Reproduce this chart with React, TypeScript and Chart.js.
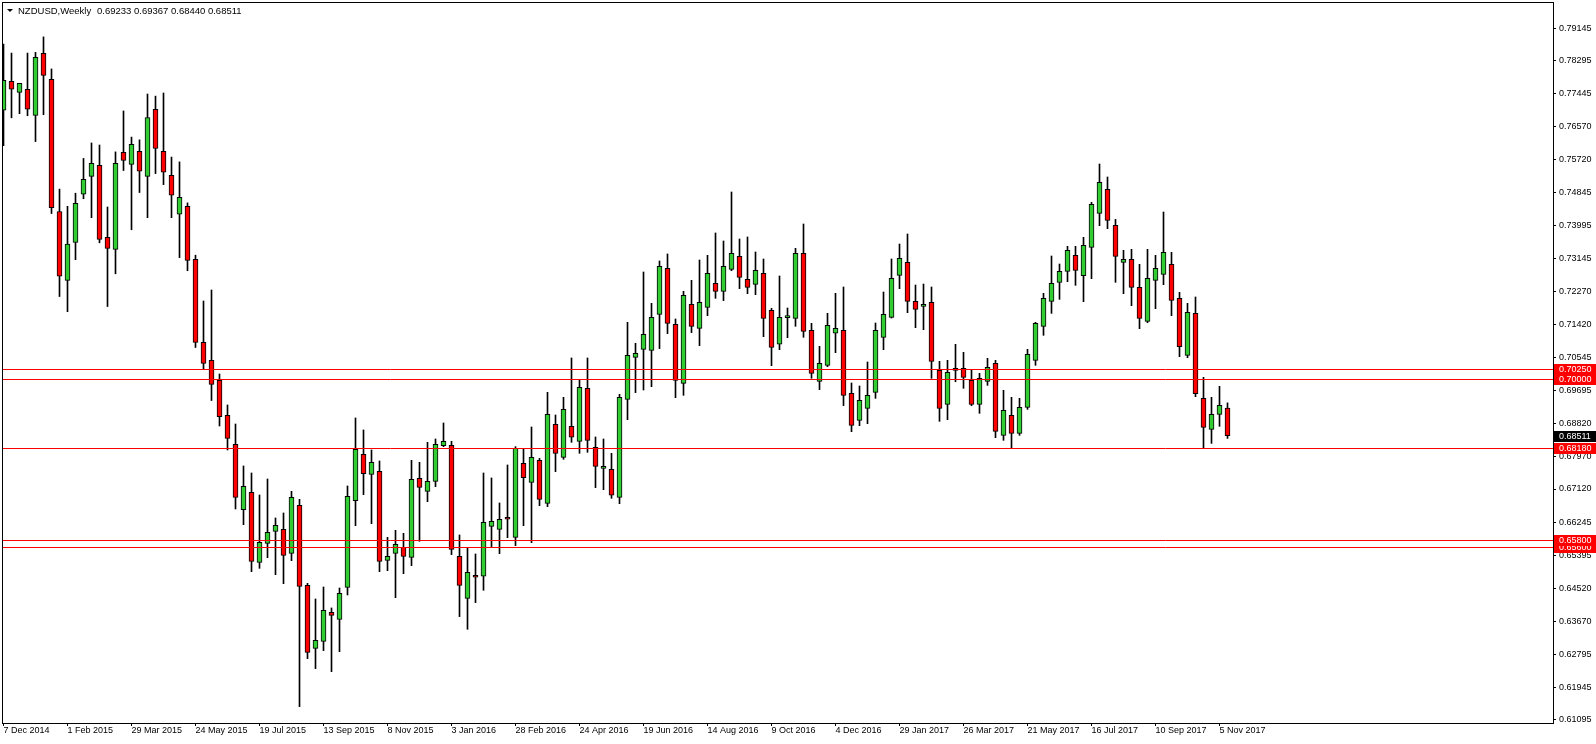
import { useEffect, useRef } from "react";
import { Chart, registerables } from "chart.js";

Chart.register(...registerables);

// ---- data (weekly NZDUSD, one bar per week starting 7 Dec 2014) ----
const OPEN = [
  0.77000, 0.77755, 0.77468, 0.77548, 0.76866, 0.78483, 0.77809, 0.74359, 0.72563, 0.73551,
  0.74809, 0.75276, 0.75563, 0.73686, 0.73371, 0.75905, 0.75590, 0.75931, 0.75276, 0.77027,
  0.75931, 0.75303, 0.74288, 0.74494, 0.73111, 0.70946, 0.70479, 0.69955, 0.69042, 0.68286,
  0.66582, 0.67034, 0.65208, 0.65703, 0.66016, 0.66069, 0.65442, 0.66695, 0.64608, 0.62964,
  0.63147, 0.63904, 0.63721, 0.64556, 0.66816, 0.68025, 0.67503, 0.67581, 0.65260, 0.65442,
  0.65599, 0.65338, 0.67399, 0.67060, 0.67321, 0.68251, 0.68260, 0.65364, 0.64269, 0.64869,
  0.64843, 0.66147, 0.66069, 0.66382, 0.65860, 0.67790, 0.67295, 0.67869, 0.66747, 0.68808,
  0.67947, 0.68755, 0.68364, 0.69747, 0.68208, 0.67660, 0.67634, 0.66903, 0.69460, 0.70555,
  0.70764, 0.70738, 0.71677, 0.72877, 0.71416, 0.69877, 0.71938, 0.71312, 0.71860, 0.72486,
  0.72277, 0.72851, 0.73190, 0.72590, 0.72460, 0.72747, 0.71781, 0.70895, 0.71590, 0.71573,
  0.73268, 0.71260, 0.69929, 0.70347, 0.71182, 0.71260, 0.69616, 0.68911, 0.69224, 0.69642,
  0.71076, 0.71598, 0.72694, 0.73033, 0.72015, 0.71885, 0.71989, 0.70216, 0.69329, 0.70216,
  0.70268, 0.69955, 0.69329, 0.69929, 0.70398, 0.68520, 0.69042, 0.68572, 0.69250, 0.70476,
  0.71363, 0.72015, 0.72511, 0.72798, 0.73215, 0.72685, 0.73424, 0.74311, 0.74937, 0.73998,
  0.73033, 0.73111, 0.72381, 0.71494, 0.72563, 0.72720, 0.72981, 0.72094, 0.70607, 0.71703,
  0.69485, 0.68677, 0.69068, 0.69233,
];
const HIGH = [
  0.78725, 0.78492, 0.77701, 0.78492, 0.78510, 0.78914, 0.78078, 0.74943, 0.74494, 0.74836,
  0.75743, 0.76147, 0.76093, 0.74476, 0.75914, 0.76982, 0.76300, 0.76228, 0.77423, 0.77369,
  0.77450, 0.75779, 0.75653, 0.74584, 0.73219, 0.72024, 0.72311, 0.70120, 0.69312, 0.68816,
  0.67721, 0.67538, 0.66964, 0.67381, 0.66364, 0.66495, 0.67060, 0.66851, 0.64660, 0.64251,
  0.64564, 0.64017, 0.64538, 0.67199, 0.68973, 0.68660, 0.68138, 0.67851, 0.65860, 0.66042,
  0.65964, 0.67868, 0.67816, 0.68338, 0.68425, 0.68842, 0.68364, 0.65921, 0.65591, 0.65425,
  0.67538, 0.67408, 0.66756, 0.67747, 0.68225, 0.68156, 0.68738, 0.67921, 0.69642, 0.69051,
  0.69512, 0.70538, 0.69981, 0.70538, 0.68477, 0.68425, 0.68051, 0.69590, 0.71468, 0.70921,
  0.72781, 0.71964, 0.73068, 0.73251, 0.71555, 0.72277, 0.72564, 0.73094, 0.73216, 0.73799,
  0.73590, 0.74868, 0.73642, 0.73694, 0.73303, 0.73120, 0.71834, 0.72677, 0.71842, 0.73399,
  0.74033, 0.71442, 0.70842, 0.71703, 0.72225, 0.72390, 0.69885, 0.69807, 0.70433, 0.71450,
  0.72259, 0.73120, 0.73511, 0.73772, 0.72441, 0.72467, 0.72389, 0.70450, 0.70476, 0.70894,
  0.70685, 0.70216, 0.70137, 0.70529, 0.70476, 0.69694, 0.69511, 0.69485, 0.70763, 0.71468,
  0.72224, 0.73198, 0.72989, 0.73450, 0.73450, 0.73685, 0.74598, 0.75598, 0.75259, 0.74154,
  0.73346, 0.73372, 0.72981, 0.73372, 0.73215, 0.74346, 0.73294, 0.72250, 0.71963, 0.72129,
  0.70033, 0.69511, 0.69798, 0.69367,
];
const LOW = [
  0.76075, 0.76803, 0.76911, 0.76857, 0.76183, 0.76884, 0.74306, 0.72141, 0.71745, 0.73102,
  0.74692, 0.74198, 0.73542, 0.71880, 0.72734, 0.75428, 0.73883, 0.74854, 0.74198, 0.75348,
  0.75060, 0.74198, 0.73156, 0.72814, 0.70811, 0.70245, 0.69428, 0.68764, 0.68138, 0.66599,
  0.66190, 0.64964, 0.65051, 0.65329, 0.64886, 0.64651, 0.65251, 0.61443, 0.62695, 0.62434,
  0.62904, 0.62356, 0.62877, 0.64356, 0.66164, 0.66973, 0.66216, 0.64964, 0.64990, 0.64286,
  0.64912, 0.65121, 0.65756, 0.66790, 0.67182, 0.68225, 0.65408, 0.63791, 0.63460, 0.64156,
  0.64478, 0.65617, 0.65434, 0.65851, 0.65643, 0.66164, 0.65721, 0.66686, 0.66660, 0.67573,
  0.67895, 0.68338, 0.68051, 0.68077, 0.67156, 0.67103, 0.66877, 0.66738, 0.68929, 0.69634,
  0.69703, 0.69790, 0.70782, 0.71173, 0.69503, 0.69564, 0.71199, 0.70860, 0.71642, 0.72094,
  0.72034, 0.72816, 0.72347, 0.72216, 0.72190, 0.71094, 0.70338, 0.70755, 0.71068, 0.71364,
  0.71077, 0.70008, 0.69712, 0.70312, 0.70677, 0.69295, 0.68616, 0.68772, 0.68824, 0.69485,
  0.70755, 0.71580, 0.72346, 0.71720, 0.71329, 0.71276, 0.70007, 0.68885, 0.68929, 0.69920,
  0.69746, 0.69294, 0.69094, 0.69824, 0.68459, 0.68390, 0.68181, 0.68520, 0.69198, 0.70346,
  0.71129, 0.71702, 0.72068, 0.72528, 0.72433, 0.72007, 0.72607, 0.73989, 0.73911, 0.72511,
  0.72215, 0.71902, 0.71302, 0.71460, 0.71824, 0.72450, 0.71642, 0.70572, 0.70546, 0.69529,
  0.68181, 0.68311, 0.68755, 0.68440,
];
const CLOSE = [
  0.77782, 0.77548, 0.77701, 0.77027, 0.78384, 0.77908, 0.74458, 0.72671, 0.73506, 0.74575,
  0.75195, 0.75617, 0.73632, 0.73398, 0.75617, 0.75689, 0.76111, 0.75410, 0.76812, 0.76003,
  0.75383, 0.74782, 0.74728, 0.73084, 0.70946, 0.70398, 0.69850, 0.69007, 0.68442, 0.66903,
  0.67190, 0.65234, 0.65729, 0.65990, 0.66173, 0.65390, 0.66903, 0.64582, 0.62860, 0.63173,
  0.63956, 0.63825, 0.64399, 0.66929, 0.68155, 0.67521, 0.67816, 0.65234, 0.65364, 0.65677,
  0.65364, 0.67373, 0.67164, 0.67321, 0.68286, 0.68364, 0.65547, 0.64608, 0.64947, 0.64817,
  0.66251, 0.66277, 0.66330, 0.66330, 0.68182, 0.67417, 0.67947, 0.66851, 0.69069, 0.68051,
  0.69199, 0.68469, 0.69773, 0.68390, 0.67712, 0.67660, 0.66956, 0.69512, 0.70608, 0.70660,
  0.71155, 0.71599, 0.72929, 0.71442, 0.69955, 0.72173, 0.71364, 0.71990, 0.72747, 0.72277,
  0.72929, 0.73268, 0.72642, 0.72381, 0.72825, 0.71573, 0.70816, 0.71599, 0.71590, 0.73268,
  0.71234, 0.70138, 0.70399, 0.71390, 0.71312, 0.69564, 0.68781, 0.69433, 0.69563, 0.71259,
  0.71676, 0.72615, 0.73137, 0.72015, 0.71807, 0.71937, 0.70450, 0.69224, 0.70163, 0.70268,
  0.70033, 0.69329, 0.70007, 0.70294, 0.68624, 0.69172, 0.68572, 0.69250, 0.70633, 0.71442,
  0.72094, 0.72485, 0.72798, 0.73346, 0.72824, 0.73476, 0.74546, 0.75120, 0.74128, 0.73189,
  0.73111, 0.72381, 0.71572, 0.72615, 0.72876, 0.73294, 0.72042, 0.70833, 0.71729, 0.69607,
  0.68729, 0.69068, 0.69303, 0.68511,
];

// x-axis labels, one every 8 weekly bars starting at bar 0
const DATE_LABELS = [
  "7 Dec 2014", "1 Feb 2015", "29 Mar 2015", "24 May 2015", "19 Jul 2015",
  "13 Sep 2015", "8 Nov 2015", "3 Jan 2016", "28 Feb 2016", "24 Apr 2016",
  "19 Jun 2016", "14 Aug 2016", "9 Oct 2016", "4 Dec 2016", "29 Jan 2017",
  "26 Mar 2017", "21 May 2017", "16 Jul 2017", "10 Sep 2017", "5 Nov 2017",
];
const DATE_STEP = 8;

const PRICE_TICKS = [
  0.79145, 0.78295, 0.77445, 0.76570, 0.75720, 0.74845, 0.73995, 0.73145, 0.72270, 0.71420,
  0.70545, 0.69695, 0.68820, 0.67970, 0.67120, 0.66245, 0.65395, 0.64520, 0.63670, 0.62795,
  0.61945, 0.61095,
];
const LEVELS = [0.656, 0.658, 0.6818, 0.70, 0.7025];
const LAST_PRICE = 0.68511;
const TITLE_SYMBOL = "NZDUSD,Weekly";
const TITLE_OHLC = "0.69233 0.69367 0.68440 0.68511";

const Y_MIN = 0.61016;
const Y_MAX = 0.79798;
const X_MIN = -0.0625;
const X_MAX = 193.6875;

const GREEN = "#32cd32";
const RED = "#ff0000";
const FAMILY = "'Liberation Sans', Arial, sans-serif";
const FONT_PX = 9;

const overlayPlugin = {
  id: "mtOverlay",
  afterDatasetsDraw(chart: any) {
    const { ctx, chartArea } = chart;
    const y = chart.scales.y;
    ctx.save();
    ctx.strokeStyle = RED;
    ctx.lineWidth = 1;
    for (const lv of LEVELS) {
      const py = Math.round(y.getPixelForValue(lv)) + 0.5;
      ctx.beginPath();
      ctx.moveTo(chartArea.left, py);
      ctx.lineTo(chartArea.right, py);
      ctx.stroke();
    }
    ctx.restore();
  },
  afterDraw(chart: any) {
    const { ctx, chartArea, width } = chart;
    const y = chart.scales.y;
    ctx.save();
    // frame
    ctx.strokeStyle = "#000";
    ctx.lineWidth = 1;
    ctx.strokeRect(chartArea.left - 0.5, chartArea.top - 0.5, chartArea.right - chartArea.left + 1, chartArea.bottom - chartArea.top + 1);
    // price boxes
    ctx.font = `${FONT_PX}px ${FAMILY}`;
    ctx.textBaseline = "middle";
    ctx.textAlign = "left";
    const box = (v: number, bg: string) => {
      const py = Math.round(y.getPixelForValue(v));
      ctx.fillStyle = bg;
      ctx.fillRect(chartArea.right + 1, py - 5, width - chartArea.right - 1, 11);
      ctx.fillStyle = "#fff";
      ctx.fillText(v.toFixed(5), chartArea.right + 6, py + 0.5);
    };
    for (const lv of LEVELS) box(lv, RED);
    box(LAST_PRICE, "#000");
    // title
    ctx.fillStyle = "#000";
    ctx.beginPath();
    ctx.moveTo(7, 9);
    ctx.lineTo(13, 9);
    ctx.lineTo(10, 12);
    ctx.closePath();
    ctx.fill();
    ctx.font = `9.5px ${FAMILY}`;
    ctx.fillText(TITLE_SYMBOL, 18, 11);
    ctx.fillText(TITLE_OHLC, 97, 11);
    ctx.restore();
  },
};

export default function App() {
  const ref = useRef<HTMLCanvasElement | null>(null);
  useEffect(() => {
    document.body.style.margin = "0";
    const canvas = ref.current;
    if (!canvas) return;
    const idx = OPEN.map((_, i) => i);
    const bodies = idx.map((i) => ({ x: i, y: [OPEN[i], CLOSE[i]] }));
    const wicks = idx.map((i) => ({ x: i, y: [LOW[i], HIGH[i]] }));
    const bodyColors = idx.map((i) => (CLOSE[i] >= OPEN[i] ? GREEN : RED));
    const font = { family: FAMILY, size: FONT_PX, lineHeight: 1 };
    const chart = new Chart(canvas, {
      type: "bar",
      data: {
        datasets: [
          {
            label: "body",
            data: bodies as any,
            backgroundColor: bodyColors,
            borderColor: "#000",
            borderWidth: 1,
            borderSkipped: false,
            barThickness: 5,
            minBarLength: 2,
            grouped: false,
            order: 0,
          } as any,
          {
            label: "wick",
            data: wicks as any,
            backgroundColor: "#000",
            borderWidth: 0,
            barThickness: 1,
            grouped: false,
            order: 1,
          } as any,
        ],
      },
      options: {
        responsive: false,
        animation: false,
        events: [],
        layout: { padding: { left: 3, top: 3, right: 0, bottom: 0 } },
        plugins: { legend: { display: false }, tooltip: { enabled: false } },
        scales: {
          x: {
            type: "linear",
            min: X_MIN,
            max: X_MAX,
            bounds: "data",
            offset: false,
            grid: { display: true, drawOnChartArea: false, drawTicks: true, tickLength: 3, color: "#000", offset: false },
            border: { display: false },
            afterBuildTicks: (s: any) => {
              s.ticks = DATE_LABELS.map((_, k) => ({ value: k * DATE_STEP }));
            },
            afterFit: (s: any) => {
              s.height = 21;
              s.paddingLeft = 0;
              s.paddingRight = 0;
            },
            ticks: {
              autoSkip: false,
              maxRotation: 0,
              minRotation: 0,
              align: "start",
              padding: 0,
              color: "#000",
              font,
              callback: (_v: any, k: number) => DATE_LABELS[k],
            },
          },
          y: {
            type: "linear",
            position: "right",
            min: Y_MIN,
            max: Y_MAX,
            bounds: "data",
            grid: { display: true, drawOnChartArea: false, drawTicks: true, tickLength: 3, color: "#000" },
            border: { display: false },
            afterBuildTicks: (s: any) => {
              s.ticks = PRICE_TICKS.map((v) => ({ value: v }));
            },
            afterFit: (s: any) => {
              s.width = 43;
              s.paddingTop = 0;
              s.paddingBottom = 0;
            },
            ticks: {
              autoSkip: false,
              padding: 3,
              color: "#000",
              font,
              callback: (v: any) => Number(v).toFixed(5),
            },
          },
        },
      } as any,
      plugins: [overlayPlugin],
    });
    return () => chart.destroy();
  }, []);
  return (
    <div style={{ width: 1596, height: 744, background: "#fff" }}>
      <canvas ref={ref} width={1596} height={744} style={{ display: "block" }} />
    </div>
  );
}
